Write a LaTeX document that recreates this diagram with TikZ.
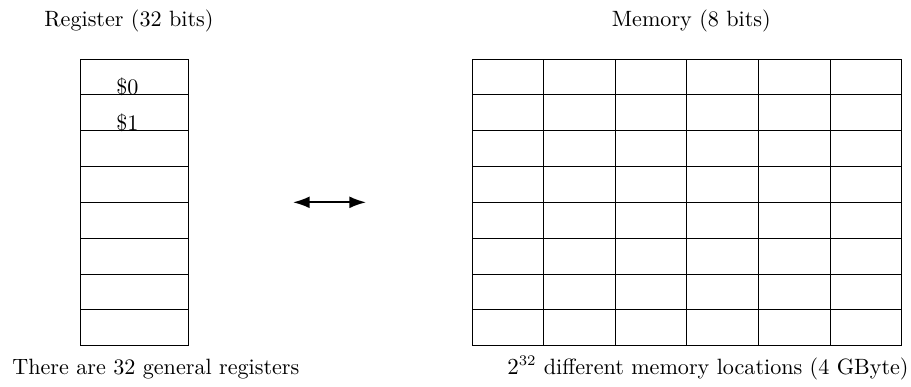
\documentclass[tikz,border=0pt]{standalone}
\usepackage{tikz}
\usetikzlibrary{arrows.meta}
\tikzset{cell/.style={draw,minimum height=0.6cm,inner sep=0pt,outer sep=0pt}}
\tikzset{bigtip/.tip={Latex[length=2.8mm,width=2mm]}}

\begin{document}
\begin{tikzpicture}[x=1cm,y=1cm,font=\fontsize{10.55pt}{12.6pt}\selectfont]
\path[use as bounding box] (0,0) rectangle (15.26,6.466);
\foreach \i in {1,...,8}
  \node[cell,minimum width=1.8cm] (reg\i) at (2.253,5.777-0.6*\i) {};
\foreach \r in {1,...,8}
  \foreach \c in {1,...,6}
    \node[cell,minimum width=1.2cm] (mem\r-\c) at (7.306+1.2*\c,5.777-0.6*\r) {};
\node[anchor=base,inner sep=0pt] (lbl0) at ([xshift=-0.12cm]reg1.south) {\$0};
\node[anchor=base,inner sep=0pt] (lbl1) at ([xshift=-0.12cm]reg2.south) {\$1};
\node[anchor=base] (regtitle) at (2.16,6.03) {Register (32 bits)};
\node[anchor=base] (memtitle) at (11.58,6.03) {Memory (8 bits)};
\node[anchor=base west,inner sep=0pt] (regnote) at (0.2,0.2) {There are 32 general registers};
\node[anchor=base west,inner sep=0pt] (memnote) at (8.49,0.2) {$2^{32}$ different memory locations (4 GByte)};
\coordinate (al) at (4.908,3.077);
\coordinate (ar) at (6.131,3.077);
\draw[line width=0.8pt,bigtip-bigtip] (al) -- (ar);
\end{tikzpicture}
\end{document}
